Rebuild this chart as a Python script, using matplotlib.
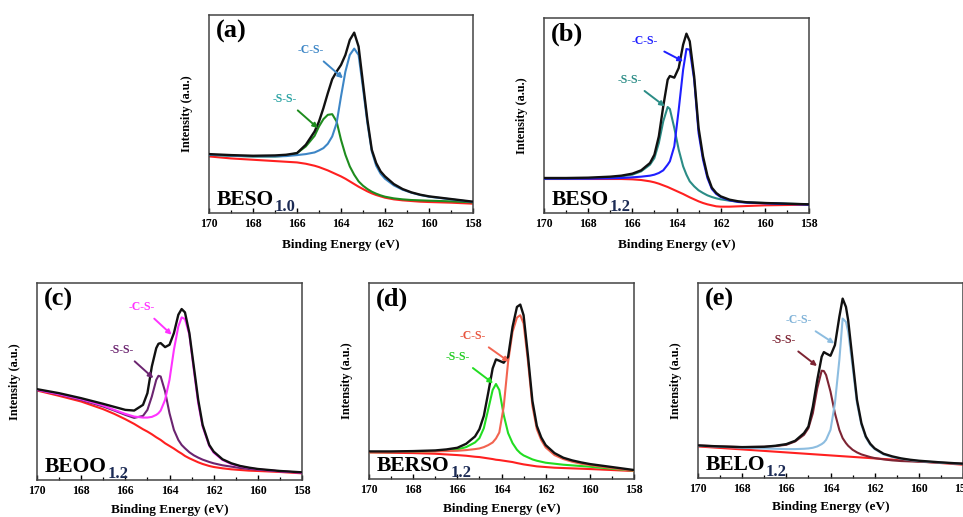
import matplotlib
matplotlib.use("Agg")
import matplotlib.pyplot as plt
from matplotlib.ticker import MultipleLocator

# ---------------- data (binding energy in eV, intensity in a.u.) ----------------
a_ev = [170, 169, 168, 167, 166.5, 166, 165.6, 165.2, 165.0, 164.8, 164.6, 164.4, 164.2, 164.0, 163.8,
        163.6, 163.4, 163.2, 163.0, 162.8, 162.6, 162.4, 162.2, 162.0, 161.6, 161.2, 160.8, 160.4, 160, 159, 158]
a_env = [177, 174, 172, 173, 175, 180, 205, 245, 275, 315, 360, 402, 425, 445, 475,
         520, 542, 500, 390, 280, 190, 150, 125, 110, 87, 72, 62, 55, 50, 42, 34]
a_cs = [175, 172, 170, 170, 171, 174, 177, 182, 188, 195, 208, 230, 270, 350, 425,
        475, 494, 475, 375, 270, 185, 142, 118, 103, 83, 70, 61, 54, 49, 41, 33]
a_ss = [175, 172, 170, 170, 172, 180, 200, 232, 260, 282, 295, 297, 275, 220, 175,
        140, 115, 95, 82, 72, 64, 58, 53, 49, 44, 41, 39, 38, 37, 35, 32]
a_bg = [170, 164, 160, 156, 154, 152, 148, 142, 138, 133, 128, 122, 116, 110, 103,
        95, 87, 79, 72, 65, 59, 54, 50, 46, 41, 38, 36, 34, 33, 31, 28]

b_ev = [170, 169, 168, 167, 166.5, 166, 165.6, 165.2, 165.0, 164.8, 164.6, 164.4, 164.3, 164.1, 163.9, 163.7,
        163.55, 163.4, 163.2, 163.0, 162.8, 162.6, 162.4, 162.2, 162.0, 161.6, 161.2, 160.8, 160.4, 160, 159, 158]
b_env = [105, 105, 106, 109, 112, 118, 128, 150, 175, 230, 320, 400, 411, 406, 435, 505,
         538, 515, 410, 255, 170, 112, 76, 60, 50, 40, 35, 32, 31, 30, 28, 26]
b_cs = [103, 103, 103, 104, 105, 107, 109, 112, 115, 120, 128, 145, 155, 200, 310, 430,
        492, 490, 400, 240, 160, 105, 72, 57, 48, 38, 33, 31, 30, 29, 27, 25]
b_ss = [103, 103, 104, 107, 110, 115, 125, 145, 165, 210, 275, 318, 312, 255, 190, 140,
        115, 95, 80, 68, 60, 53, 48, 44, 41, 37, 34, 32, 31, 30, 28, 26]
b_bg = [102, 102, 102, 102, 102, 101, 99, 95, 92, 88, 83, 78, 75, 69, 63, 57,
        52, 47, 41, 35, 30, 26, 23, 20, 19, 19, 20, 21, 22, 23, 24, 25]

c_ev = [170, 169, 168, 167, 166.5, 166, 165.6, 165.2, 165.0, 164.8, 164.6, 164.5, 164.4, 164.2, 164.0, 163.8,
        163.6, 163.45, 163.3, 163.1, 162.9, 162.7, 162.5, 162.2, 162.0, 161.6, 161.2, 160.8, 160.4, 160, 159, 158]
c_env = [272, 260, 245, 228, 219, 210, 208, 225, 260, 340, 395, 408, 410, 398, 405, 440,
         495, 512, 502, 440, 340, 240, 165, 105, 85, 62, 50, 42, 37, 33, 27, 23]
c_cs = [270, 257, 242, 223, 210, 198, 190, 187, 187, 189, 195, 200, 208, 240, 300, 390,
        460, 487, 482, 435, 330, 230, 160, 102, 82, 60, 48, 41, 36, 32, 26, 22]
c_ss = [270, 256, 240, 220, 208, 195, 186, 192, 210, 250, 300, 312, 310, 265, 200, 150,
        120, 105, 95, 83, 74, 67, 61, 54, 50, 44, 40, 36, 33, 31, 26, 22]
c_bg = [268, 252, 235, 212, 198, 182, 168, 152, 145, 137, 128, 124, 120, 110, 102, 94,
        85, 79, 72, 65, 59, 53, 48, 42, 39, 35, 32, 30, 28, 27, 24, 20]

d_ev = [170, 169, 168, 167, 166.5, 166, 165.6, 165.2, 165.0, 164.8, 164.6, 164.4, 164.25, 164.1, 163.9, 163.7,
        163.5, 163.3, 163.15, 163.0, 162.8, 162.6, 162.4, 162.2, 162.0, 161.6, 161.2, 160.8, 160.4, 160, 159, 158]
d_env = [83, 83, 84, 86, 89, 94, 106, 128, 150, 190, 260, 333, 360, 356, 350, 368,
         458, 518, 525, 493, 370, 235, 160, 125, 102, 78, 64, 56, 50, 45, 36, 27]
d_cs = [81, 81, 82, 83, 84, 85, 87, 90, 92, 96, 102, 110, 122, 140, 218, 353,
        443, 486, 493, 468, 353, 220, 150, 117, 95, 72, 60, 52, 46, 42, 33, 25]
d_ss = [81, 81, 82, 84, 86, 89, 96, 110, 123, 153, 210, 268, 286, 268, 193, 138,
        108, 88, 78, 71, 65, 59, 55, 52, 49, 46, 43, 41, 39, 37, 31, 25]
d_bg = [80, 79, 78, 76, 74, 72, 70, 67, 66, 64, 62, 60, 58, 57, 55, 53,
        51, 48, 46, 44, 42, 40, 38, 37, 36, 34, 33, 32, 31, 30, 27, 24]

e_ev = [170, 169, 168, 167, 166.5, 166, 165.6, 165.2, 165.0, 164.8, 164.6, 164.4, 164.3, 164.2, 164.0, 163.8,
        163.6, 163.45, 163.3, 163.2, 163.0, 162.8, 162.6, 162.4, 162.2, 162.0, 161.6, 161.2, 160.8, 160.4, 160, 159, 158]
e_env = [98, 95, 93, 94, 97, 102, 112, 135, 155, 215, 295, 365, 379, 375, 368, 400,
         485, 540, 515, 475, 355, 235, 165, 125, 103, 89, 73, 65, 59, 55, 52, 47, 43]
e_cs = [97, 94, 91, 89, 88, 87, 87, 88, 89, 91, 95, 102, 107, 115, 145, 225,
        355, 480, 470, 440, 335, 225, 160, 122, 100, 87, 71, 63, 58, 54, 51, 46, 42]
e_ss = [98, 95, 93, 94, 96, 100, 110, 130, 150, 195, 270, 323, 322, 310, 260, 195,
        145, 120, 105, 97, 85, 77, 71, 67, 63, 60, 56, 53, 51, 50, 49, 46, 43]
e_bg_ev = [170, 168, 166, 164, 162, 160, 158]
e_bg = [95, 86, 77, 68, 59, 50, 40]

panel_letters = ["(a)", "(b)", "(c)", "(d)", "(e)"]
sample_names = ["BESO", "BESO", "BEOO", "BERSO", "BELO"]
sample_subs = ["1.0", "1.2", "1.2", "1.2", "1.2"]
x_ticks = [170, 168, 166, 164, 162, 160, 158]

# ---------------- styling / layout ----------------
FIG_W, FIG_H = 963, 517
SERIF = ["Liberation Serif", "DejaVu Serif"]

panels = [
    dict(rect=(209, 15, 473, 213), ev=a_ev, env=a_env, cs=a_cs, ss=a_ss, bg_ev=a_ev, bg=a_bg, ymax=595,
         cs_col="#3d86c6", ss_col="#1e8c1e", cs_lab="#3d86c6", ss_lab="#2aa3a3", xlab_y=-0.13,
         cs_txt=(165.39, 490), cs_tip=(163.91, 405), ss_txt=(166.56, 343), ss_tip=(165.05, 255)),
    dict(rect=(544, 18, 809, 213), ev=b_ev, env=b_env, cs=b_cs, ss=b_ss, bg_ev=b_ev, bg=b_bg, ymax=585,
         cs_col="#1f1fff", ss_col="#2b8c86", cs_lab="#1f1fff", ss_lab="#2b8c86", xlab_y=-0.135,
         cs_txt=(165.44, 515), cs_tip=(163.70, 455), ss_txt=(166.12, 400), ss_tip=(164.53, 320)),
    dict(rect=(37, 283, 302, 480), ev=c_ev, env=c_env, cs=c_cs, ss=c_ss, bg_ev=c_ev, bg=c_bg, ymax=590,
         cs_col="#ff33ff", ss_col="#6b2470", cs_lab="#ff33ff", ss_lab="#6b2470", xlab_y=-0.12,
         cs_txt=(165.26, 518), cs_tip=(163.90, 435), ss_txt=(166.16, 390), ss_tip=(164.73, 305)),
    dict(rect=(369, 283, 634, 479), ev=d_ev, env=d_env, cs=d_cs, ss=d_ss, bg_ev=d_ev, bg=d_bg, ymax=590,
         cs_col="#f26450", ss_col="#22dd22", cs_lab="#e8553f", ss_lab="#22cc22", xlab_y=-0.12,
         cs_txt=(165.29, 430), cs_tip=(163.66, 353), ss_txt=(165.97, 368), ss_tip=(164.38, 288)),
    dict(rect=(698, 283, 963, 478), ev=e_ev, env=e_env, cs=e_cs, ss=e_ss, bg_ev=e_bg_ev, bg=e_bg, ymax=587,
         cs_col="#8dbde0", ss_col="#7d2433", cs_lab="#7fb2d8", ss_lab="#7d2433", xlab_y=-0.12,
         cs_txt=(165.44, 475), cs_tip=(163.83, 405), ss_txt=(166.12, 415), ss_tip=(164.61, 337)),
]

fig = plt.figure(figsize=(FIG_W / 100, FIG_H / 100), dpi=100)
fig.patch.set_facecolor("white")

for i, p in enumerate(panels):
    x0, y0, x1, y1 = p["rect"]
    ax = fig.add_axes([x0 / FIG_W, (FIG_H - y1) / FIG_H, (x1 - x0) / FIG_W, (y1 - y0) / FIG_H])
    lw = 1.5
    ax.plot(p["bg_ev"], p["bg"], color="#ff2020", lw=lw, zorder=2)
    ax.plot(p["ev"], p["ss"], color=p["ss_col"], lw=lw, zorder=3)
    ax.plot(p["ev"], p["cs"], color=p["cs_col"], lw=lw, zorder=3)
    ax.plot(p["ev"], p["env"], color="#111111", lw=lw + 0.2, zorder=4)

    ax.set_xlim(170, 158)
    ax.set_ylim(0, p["ymax"])
    ax.set_xticks(x_ticks)
    ax.xaxis.set_minor_locator(MultipleLocator(1))
    ax.set_yticks([])
    ax.tick_params(axis="x", which="major", direction="in", length=3.5, width=1.0,
                   pad=3.5, labelsize=8.5)
    ax.tick_params(axis="x", which="minor", direction="in", length=2, width=0.9)
    for lab in ax.get_xticklabels():
        lab.set_fontfamily(SERIF)
        lab.set_fontweight("bold")
    for sp in ax.spines.values():
        sp.set_color("#444444")
        sp.set_linewidth(1.1)

    ax.set_xlabel("Binding Energy (eV)", fontfamily=SERIF, fontweight="bold", fontsize=9.5)
    ax.xaxis.set_label_coords(0.5, p["xlab_y"])
    ax.set_ylabel("Intensity (a.u.)", fontfamily=SERIF, fontweight="bold", fontsize=8.8)
    ax.yaxis.set_label_coords(-0.062, 0.5)

    ax.text(0.025, 0.975, panel_letters[i], transform=ax.transAxes, ha="left", va="top",
            fontfamily=SERIF, fontweight="bold", fontsize=19)
    main = ax.text(0.028, 0.04, sample_names[i], transform=ax.transAxes, ha="left", va="baseline",
                   fontfamily=SERIF, fontweight="bold", fontsize=15.5)
    ax.annotate(sample_subs[i], xy=(1.0, 0.0), xycoords=main, xytext=(0.8, -0.5),
                textcoords="offset points", ha="left", va="baseline",
                fontfamily=SERIF, fontweight="bold", fontsize=12, color="#1c2b55")

    ax.annotate("-C-S-", xy=p["cs_tip"], xytext=p["cs_txt"], ha="center", va="center",
                fontfamily=SERIF, fontweight="bold", fontsize=8.5, color=p["cs_lab"],
                arrowprops=dict(arrowstyle="-|>", color=p["cs_col"], lw=1.4,
                                mutation_scale=7, shrinkA=3, shrinkB=0), zorder=6)
    ax.annotate("-S-S-", xy=p["ss_tip"], xytext=p["ss_txt"], ha="center", va="center",
                fontfamily=SERIF, fontweight="bold", fontsize=8.5, color=p["ss_lab"],
                arrowprops=dict(arrowstyle="-|>", color=p["ss_col"], lw=1.4,
                                mutation_scale=7, shrinkA=3, shrinkB=0), zorder=6)

fig.savefig("out.png", dpi=100, facecolor="white")
